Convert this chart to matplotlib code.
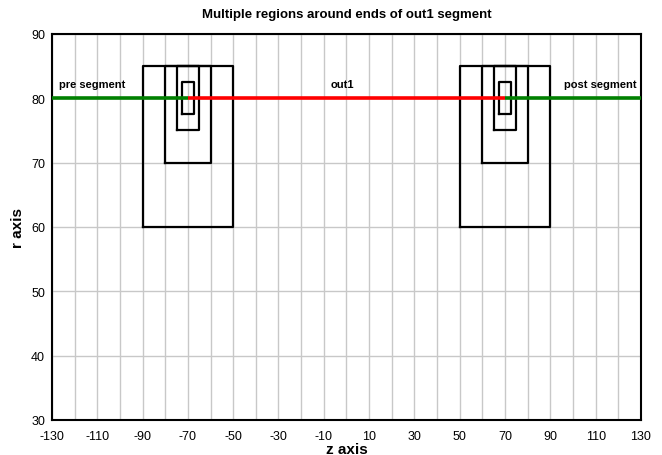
import matplotlib
matplotlib.use("Agg")
import matplotlib.pyplot as plt

plt.rcParams['font.family'] = ['Liberation Sans', 'DejaVu Sans']
plt.rcParams['axes.unicode_minus'] = False

# segment ends along z at r = 80
seg_r = 80
pre_z = [-130, -70]
out1_z = [-70, 70]
post_z = [70, 130]

# regions around each end: (z_min, z_max, r_min, r_max)
left_boxes = [(-90, -50, 60, 85), (-80, -60, 70, 85), (-75, -65, 75, 85), (-72.5, -67.5, 77.5, 82.5)]
right_boxes = [(50, 90, 60, 85), (60, 80, 70, 85), (65, 75, 75, 85), (67.5, 72.5, 77.5, 82.5)]

labels = ["pre segment", "out1", "post segment"]
label_z = [-127, -2, 128]
label_r = 81.4

xticks = list(range(-130, 131, 20))
yticks = list(range(30, 91, 10))

fig = plt.figure(figsize=(6.62, 4.56), dpi=100)
ax = fig.add_axes([0.0785, 0.0768, 0.8897, 0.8465])

for b in left_boxes + right_boxes:
    z0, z1, r0, r1 = b
    ax.plot([z0, z1, z1, z0, z0], [r0, r0, r1, r1, r0], color='black', lw=1.6, zorder=3)

ax.plot(pre_z, [seg_r, seg_r], color='#008000', lw=2.6, zorder=4, solid_capstyle='butt')
ax.plot(out1_z, [seg_r, seg_r], color='#ff0000', lw=2.6, zorder=4, solid_capstyle='butt')
ax.plot(post_z, [seg_r, seg_r], color='#008000', lw=2.6, zorder=4, solid_capstyle='butt')

ax.text(label_z[0], label_r, labels[0], ha='left', va='bottom', fontsize=8, fontweight='bold')
ax.text(label_z[1], label_r, labels[1], ha='center', va='bottom', fontsize=8, fontweight='bold')
ax.text(label_z[2], label_r, labels[2], ha='right', va='bottom', fontsize=8, fontweight='bold')

ax.set_xlim(-130, 130)
ax.set_ylim(30, 90)
ax.set_xticks(xticks)
ax.set_xticks(range(-130, 131, 10), minor=True)
ax.set_yticks(yticks)
ax.grid(True, which='both', color='#c8c8c8', lw=1.0, zorder=0)
ax.set_axisbelow(True)
ax.tick_params(which='both', length=0, labelsize=9)
ax.tick_params(axis='x', pad=7)
ax.tick_params(axis='y', pad=5)
for s in ax.spines.values():
    s.set_color('black')
    s.set_linewidth(1.5)

ax.set_xlabel("z axis", fontsize=11, fontweight='bold', labelpad=0)
ax.set_ylabel("r axis", fontsize=11, fontweight='bold', labelpad=4)
ax.set_title("Multiple regions around ends of out1 segment", fontsize=9.5, fontweight='bold', pad=12)

fig.savefig("out.png", dpi=100)
